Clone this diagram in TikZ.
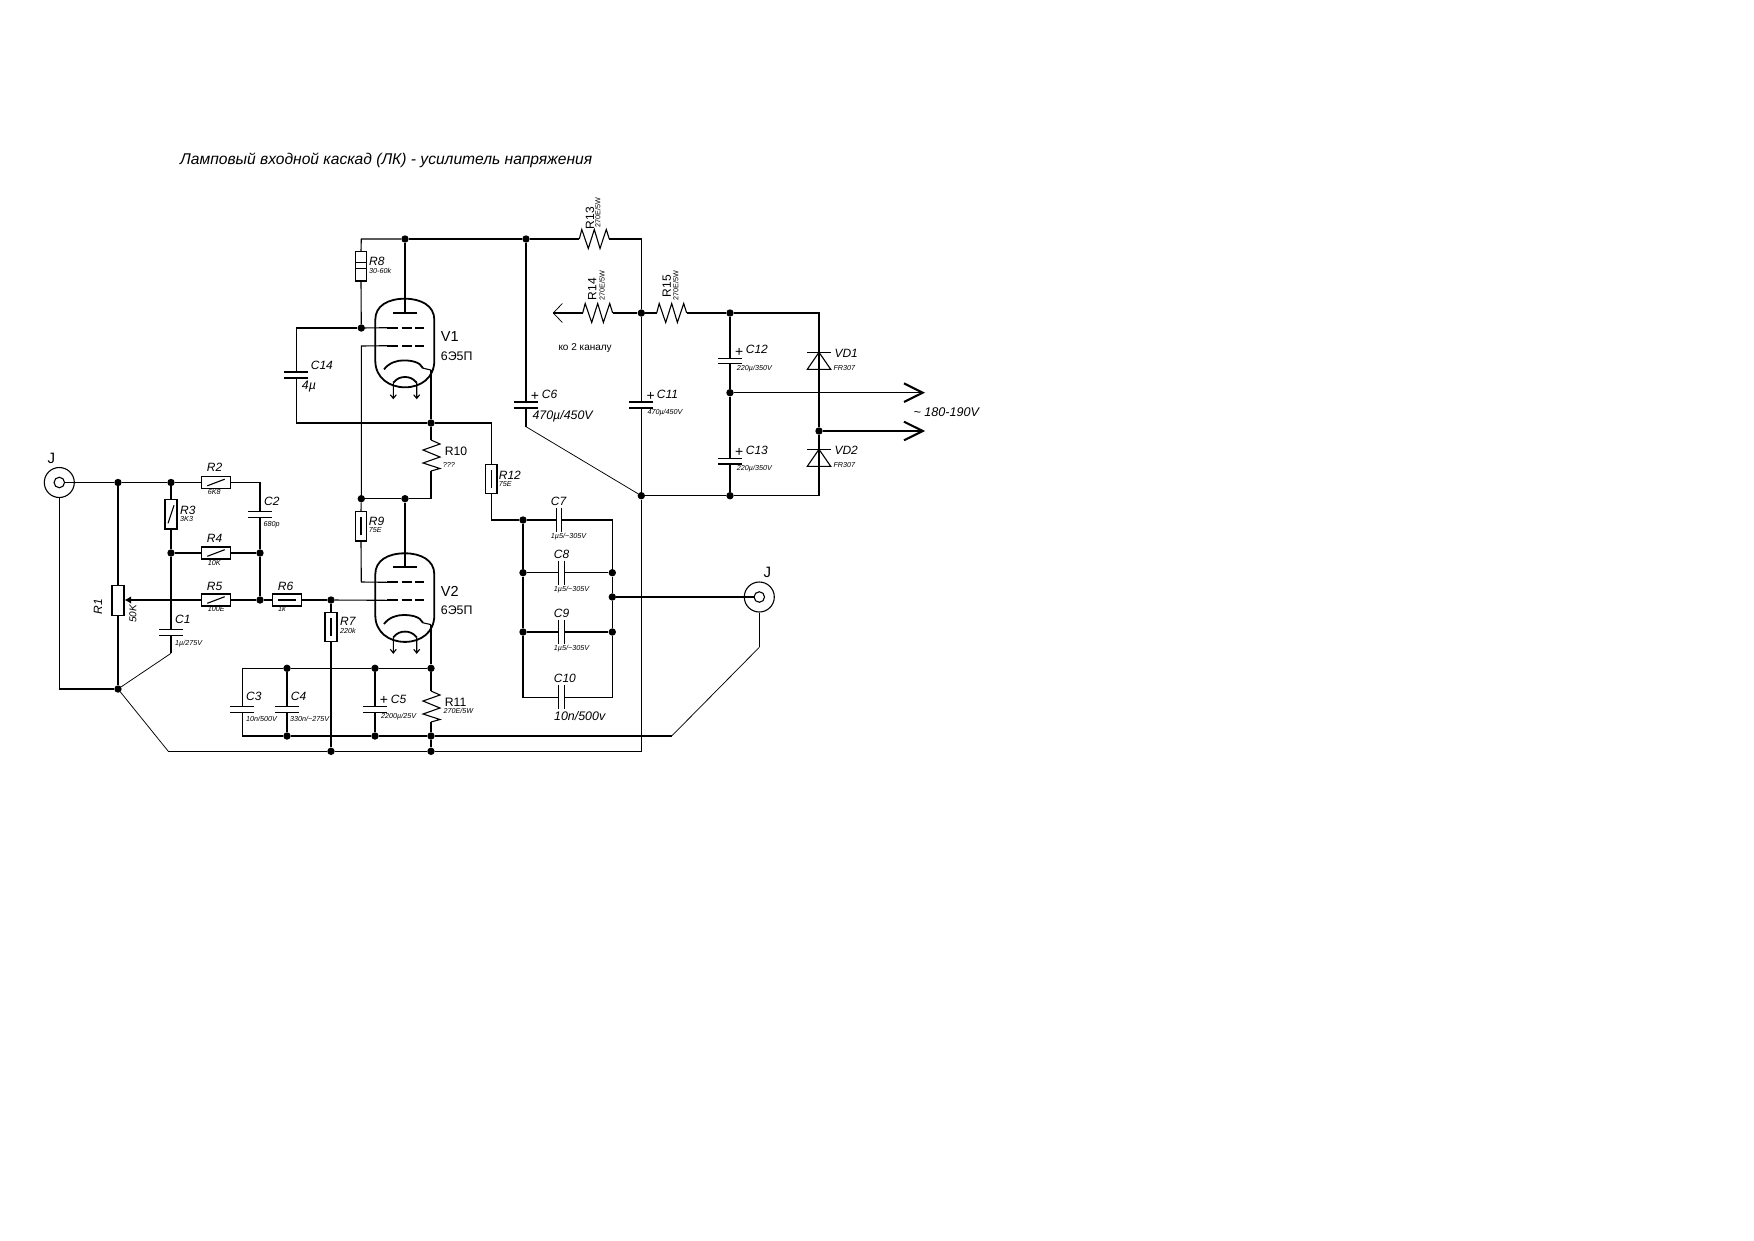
\documentclass[tikz,border=0pt]{standalone}
\usepackage{fontspec}
\setmainfont{Liberation Sans}
\usetikzlibrary{arrows.meta}
\newcounter{labn}
\tikzset{
  wire/.style={line width=1.1pt,line join=miter},
  thin wire/.style={line width=0.75pt},
  junc/.style={circle,fill=black,draw=none,inner sep=0pt,minimum size=7.4pt},
  resh/.style={rectangle,draw,line width=1.1pt,fill=white,inner sep=0pt,minimum width=29.4pt,minimum height=12pt},
  resv/.style={rectangle,draw,line width=1.1pt,fill=white,inner sep=0pt,minimum width=12pt,minimum height=29.4pt},
  tlab/.style={anchor=base west,inner sep=0pt,font=\fontsize{12}{13}\selectfont\itshape},
  ulab/.style={anchor=base west,inner sep=0pt,font=\fontsize{12.2}{13}\selectfont},
  jlab/.style={anchor=base west,inner sep=0pt,font=\fontsize{15}{16}\selectfont},
  slab/.style={anchor=base west,inner sep=0pt,font=\fontsize{7.2}{8}\selectfont\itshape},
  mlab/.style={anchor=base west,inner sep=0pt,font=\fontsize{12.4}{14}\selectfont\itshape},
  pluslab/.style={anchor=center,inner sep=0pt,font=\fontsize{14}{14}\selectfont},
  jackout/.style={circle,draw,line width=1.1pt,inner sep=0pt,minimum size=30pt},
  jackin/.style={circle,draw,line width=1.1pt,inner sep=0pt,minimum size=10.5pt},
  tubeline/.style={line width=1.8pt},
}
\newcommand{\lb}[4][tlab]{\stepcounter{labn}\node[#1] (lab\arabic{labn}) at (#2,#3) {#4};}
\newcommand{\junc}[3]{\node[junc] (#1) at (#2,#3) {};}
\newcommand{\slashH}[1]{\draw[wire] ([xshift=-8.7pt,yshift=-3.3pt]#1.center) -- ([xshift=8.7pt,yshift=3.3pt]#1.center);}
\newcommand{\slashV}[1]{\draw[wire] ([xshift=-3pt,yshift=-9pt]#1.center) -- ([xshift=3pt,yshift=9pt]#1.center);}
\newcommand{\barH}[1]{\draw[wire] ([xshift=-8.7pt]#1.center) -- ([xshift=8.7pt]#1.center);}
\newcommand{\barV}[1]{\draw[wire] ([yshift=-9pt]#1.center) -- ([yshift=9pt]#1.center);}
% capacitor with horizontal plates: name x y1 y2
\newcommand{\capV}[4]{\coordinate (#1a) at (#2,#3);\coordinate (#1b) at (#2,#4);
  \draw[wire] ({#2-12},#3) -- ({#2+12},#3) ({#2-12},#4) -- ({#2+12},#4);}
% capacitor with vertical plates: name x1 x2 y
\newcommand{\capH}[4]{\coordinate (#1a) at (#2,#4);\coordinate (#1b) at (#3,#4);
  \draw[wire] (#2,{#4-12}) -- (#2,{#4+12}) (#3,{#4-12}) -- (#3,{#4+12});}
% zigzag, vertical: name x ytop
\newcommand{\zigV}[3]{\begin{scope}[shift={(#2,#3)}]\coordinate (#1a) at (0,0);\coordinate (#1b) at (0,31);
  \draw[wire] (#1a) -- (9,4) -- (-8,10) -- (9,17) -- (-8,23) -- (9,28.5) -- (#1b);\end{scope}}
% zigzag, horizontal: name xleft y
\newcommand{\zigH}[3]{\begin{scope}[shift={(#2,#3)}]\coordinate (#1a) at (0,0);\coordinate (#1b) at (30,0);
  \draw[wire] (#1a) -- (2.5,-9.5) -- (9,9.5) -- (15,-9.5) -- (20.7,9.5) -- (27,-9.5) -- (#1b);\end{scope}}
% diode: name x ybar
\newcommand{\diodeV}[3]{\coordinate (#1k) at (#2,#3);\coordinate (#1b) at (#2,{#3+17});
  \draw[wire] ({#2-11.7},#3) -- ({#2+11.7},#3);
  \draw[wire] (#1k) -- ({#2-11.7},{#3+17}) -- ({#2+11.7},{#3+17}) -- cycle;}
% tube: name ytop
\newcommand{\tubeV}[2]{\begin{scope}[shift={(405,#2)}]
  \coordinate (#1p) at (0,14);\coordinate (#1gA) at (-17.7,29);\coordinate (#1gB) at (-17.7,47);\coordinate (#1k) at (26,71.3);
  \draw[tubeline] (-29.7,21) .. controls (-29.7,7) and (-17,0) .. (0,0) .. controls (16,0) and (29.3,7) .. (29.3,21)
     -- (29.3,62) .. controls (29.3,79) and (16,88.6) .. (0,88.6) .. controls (-16,88.6) and (-29.7,79) .. (-29.7,62) -- cycle;
  \draw[tubeline] (-12.2,14) -- (12.2,14);
  \draw[tubeline] (-17.7,29) -- (-6.7,29) (-3.3,29) -- (6.7,29) (10,29) -- (19,29);
  \draw[tubeline] (-17.7,47) -- (-6.7,47) (-3.3,47) -- (6.7,47) (10,47) -- (19,47);
  \draw[tubeline] (-21,70.7) .. controls (-16,64) and (-8,61.7) .. (-1.7,61.7) .. controls (6,61.7) and (15,63) .. (18,69.5);
  \draw[wire] (18,69.5) -- (#1k);
  \draw[tubeline] (-11.7,84) .. controls (-8,79.5) and (-4,78.3) .. (0,78.3) .. controls (4,78.3) and (8,79.5) .. (11.7,84);
  \draw[wire] (-11.7,84) -- (-11.7,99.7) (-14.7,96) -- (-11.7,99.7) -- (-8.7,96);
  \draw[wire] (11.7,84) -- (11.7,99.7) (8.7,96) -- (11.7,99.7) -- (14.7,96);
  \end{scope}}
\begin{document}
\begin{tikzpicture}[x=1pt,y=-1pt]
\useasboundingbox[fill=white] (0,0) rectangle (1754,1240);
% junctions
\junc{jA}{118}{482.5}\junc{jB}{171}{482.5}\junc{jC}{171}{553}\junc{jD}{260}{553}
\junc{jE}{260}{600}\junc{jF}{331}{600}\junc{jG}{118}{689}
\junc{jH}{287}{668.3}\junc{jI}{375}{668.3}\junc{jJ}{431}{668.3}
\junc{jK}{287}{736}\junc{jL}{375}{736}\junc{jM}{431}{736}
\junc{jN}{431}{751.3}\junc{jO}{331}{751.3}
\junc{jQ}{405}{239}\junc{jR}{526}{239}\junc{jS}{361.3}{328}\junc{jT}{431}{423}
\junc{jU}{361.3}{498.7}\junc{jV}{405}{498.7}
\junc{jW}{523}{520}\junc{jX}{523}{572.7}\junc{jY}{612.3}{572.7}\junc{jZ}{612.3}{597}
\junc{jAA}{523}{632}\junc{jAB}{612.3}{632}
\junc{jAC}{641.3}{313}\junc{jAD}{641.3}{495.7}
\junc{jAE}{730}{313}\junc{jAF}{730}{392.7}\junc{jAG}{730}{495.7}\junc{jAH}{819}{431}
% free corners
\coordinate (cTL) at (361.3,239);
\coordinate (cTR) at (641.3,239);
\coordinate (cA) at (296.3,328);
\coordinate (cB) at (296.3,423);
\coordinate (cC) at (491.3,423);
\coordinate (cD) at (491.3,520);
\coordinate (cE) at (431,498.7);
\coordinate (cF) at (361.3,346);
\coordinate (cG) at (361.3,582);
\coordinate (cH) at (260,482.5);
\coordinate (cI) at (171,653.3);
\coordinate (cJ) at (168.3,751.3);
\coordinate (cK) at (641.3,751.3);
\coordinate (cL) at (242.3,668.3);
\coordinate (cM) at (242.3,736);
\coordinate (cN) at (671.7,736);
\coordinate (cO) at (759.3,647.3);
\coordinate (cP) at (526,426.7);
\coordinate (cQ) at (612.3,520);
\coordinate (cR) at (523,697.3);
\coordinate (cS) at (612.3,697.3);
\coordinate (cT) at (819,313);
\coordinate (cU) at (819,495.7);
\coordinate (tA) at (922.7,392.7);
\coordinate (tB) at (922.7,431);
\coordinate (tC) at (553.3,313);
% boxes
\node[resh] (R2) at (216,482.5) {};\slashH{R2}
\node[resh] (R4) at (216,553) {};\slashH{R4}
\node[resh] (R5) at (216,600) {};\slashH{R5}
\node[resh] (R6) at (287,600) {};\barH{R6}
\node[resv] (R3) at (171,514.3) {};\slashV{R3}
\node[resv] (R1) at (118,600.5) {};
\node[resv] (R7) at (331,627) {};\barV{R7}
\node[resv,minimum width=11.4pt] (R8) at (361,266.3) {};
\draw[wire] (R8.west|-0,262.7) -- (R8.east|-0,262.7) (R8.west|-0,268.3) -- (R8.east|-0,268.3);
\node[resv,minimum width=11.4pt] (R9) at (361,526.3) {};\barV{R9}
\node[resv,minimum width=11.4pt] (R12) at (491.3,479) {};\barV{R12}
% jacks
\node[jackout] (J1) at (59.3,482.5) {};\node[jackin] (J1i) at (59.3,482.5) {};
\node[jackout] (J2) at (759.3,597) {};\node[jackin] (J2i) at (759.3,597) {};
% capacitors
\capV{C1}{171}{629.3}{635.3}
\capV{C2}{260}{511.3}{517.3}
\capV{C3}{242.3}{706.7}{712.7}
\capV{C4}{287}{706.7}{712.7}
\capV{C5}{375}{706.7}{712.5}
\capV{C6}{526}{402}{408}
\capV{C11}{641.3}{402}{408}
\capV{C12}{730}{358.5}{363.5}
\capV{C13}{730}{458.3}{464}
\capV{C14}{296.3}{372}{378}
\capH{C7}{556.3}{561.7}{520}
\capH{C8}{558.7}{564.3}{572.7}
\capH{C9}{558.7}{564.3}{632}
\capH{C10}{558.7}{564.3}{697.3}
% zigzags
\zigV{R10}{431}{440}
\zigV{R11}{431}{691}
\zigH{R13}{579.3}{239}
\zigH{R14}{582.7}{313}
\zigH{R15}{656.7}{313}
% diodes
\diodeV{VD1}{819}{352.3}
\diodeV{VD2}{819}{449.3}
% tubes
\tubeV{V1}{298.7}
\tubeV{V2}{553.3}
% input network
\draw[wire] (J1i) -- (jA);\draw[wire] (jA) -- (jB);\draw[wire] (jB) -- (R2);
\draw[wire] (R2) -- (cH) -- (C2a);\draw[wire] (C2b) -- (jD);
\draw[wire] (jB) -- (R3);\draw[wire] (R3) -- (jC);\draw[wire] (jC) -- (R4);\draw[wire] (R4) -- (jD);
\draw[wire] (jD) -- (jE);\draw[wire] (jE) -- (R5);\draw[wire] (jE) -- (R6);\draw[wire] (R6) -- (jF);
\draw[wire,-{Latex[length=6.5pt,width=7.5pt]}] (R5.west) -- (R1.east|-R5.west);
\draw[wire] (jA) -- (R1);\draw[wire] (R1) -- (jG);
\draw[wire] (J1.south) |- (jG);
\draw[wire] (jC) -- (C1a);\draw[wire] (C1b) -- (cI);
\draw[thin wire] (cI) -- (jG);\draw[thin wire] (jG) -- (cJ);
\draw[wire] (cJ) -- (jO);\draw[wire] (jO) -- (jN);\draw[wire] (jN) -- (cK) -- (jAD);
% cathode network of V2
\draw[wire] (jF) -- (V2gB);\draw[wire] (jF) -- (R7);\draw[wire] (R7) -- (jO);
\draw[wire] (jH) -- (cL) -- (C3a);\draw[wire] (C3b) -- (cM) -- (jK);
\draw[wire] (jH) -- (C4a);\draw[wire] (C4b) -- (jK);
\draw[wire] (jH) -- (jI);\draw[wire] (jI) -- (jJ);
\draw[wire] (jI) -- (C5a);\draw[wire] (C5b) -- (jL);
\draw[wire] (jK) -- (jL);\draw[wire] (jL) -- (jM);\draw[wire] (jM) -- (cN);
\draw[thin wire] (cN) -- (cO);\draw[wire] (cO) -- (J2.south);
\draw[wire] (V2k) -- (jJ);\draw[wire] (jJ) -- (R11a);\draw[wire] (R11b) -- (jM);\draw[wire] (jM) -- (jN);
% upper stage
\draw[wire] (R8.north) -- (cTL) -- (jQ);\draw[wire] (jQ) -- (jR);\draw[wire] (jR) -- (R13a);
\draw[wire] (jQ) -- (V1p);
\draw[wire] (R8.south) -- (jS);\draw[wire] (jS) -- (V1gA);
\draw[wire] (jS) -- (cA) -- (C14a);\draw[wire] (C14b) -- (cB) -- (jT);
\draw[wire] (V1k) -- (jT);\draw[wire] (jT) -- (R10a);\draw[wire] (R10b) -- (cE) -- (jV);
\draw[wire] (jV) -- (jU);\draw[wire] (V1gB) -- (cF) -- (jU);
\draw[wire] (jU) -- (R9.north);\draw[wire] (R9.south) -- (cG) -- (V2gA);
\draw[wire] (jV) -- (V2p);
\draw[wire] (jT) -- (cC) -- (R12.north);\draw[wire] (R12.south) -- (cD) -- (jW);
% coupling capacitors
\draw[wire] (jW) -- (C7a);\draw[wire] (C7b) -- (cQ) -- (jY);
\draw[wire] (jX) -- (C8a);\draw[wire] (C8b) -- (jY);
\draw[wire] (jAA) -- (C9a);\draw[wire] (C9b) -- (jAB);
\draw[wire] (jW) -- (jX);\draw[wire] (jX) -- (jAA);\draw[wire] (jAA) -- (cR) -- (C10a);
\draw[wire] (C10b) -- (cS) -- (jAB);\draw[wire] (jAB) -- (jZ);\draw[wire] (jZ) -- (jY);
\draw[wire] (jZ) -- (J2i);
% supply
\draw[wire] (R13b) -- (cTR) -- (jAC);\draw[wire] (jAC) -- (C11a);\draw[wire] (C11b) -- (jAD);
\draw[wire] (jR) -- (C6a);\draw[wire] (C6b) -- (cP);\draw[thin wire] (cP) -- (jAD);
\draw[wire] (jAD) -- (jAG);
\draw[wire] (R14b) -- (jAC);\draw[wire] (jAC) -- (R15a);\draw[wire] (R15b) -- (jAE);
\draw[wire] (R14a) -- (tC);
\draw[thin wire] ([xshift=9pt,yshift=9.5pt]tC) -- (tC) -- ([xshift=9pt,yshift=-9.5pt]tC);
\draw[wire] (jAE) -- (C12a);\draw[wire] (C12b) -- (jAF);\draw[wire] (jAF) -- (C13a);\draw[wire] (C13b) -- (jAG);
\draw[wire] (jAE) -- (cT) -- (VD1k);\draw[wire] (VD1k) -- (jAH);\draw[wire] (jAH) -- (VD2k);
\draw[wire] (VD2k) -- (cU) -- (jAG);
\draw[wire] (jAF) -- (tA);\draw[wire] (jAH) -- (tB);
\draw[line width=2.1pt] ([xshift=-18.7pt,yshift=9.3pt]tA) -- (tA) -- ([xshift=-18.7pt,yshift=-9.3pt]tA);
\draw[line width=2.1pt] ([xshift=-18.7pt,yshift=9.3pt]tB) -- (tB) -- ([xshift=-18.7pt,yshift=-9.3pt]tB);
% title
\lb[anchor=base west,inner sep=0pt,font=\fontsize{15.6}{17}\selectfont\itshape]{180}{164}{Ламповый входной каскад (ЛК) - усилитель напряжения}
% labels left
\lb[jlab]{47.3}{463.3}{J}
\lb{206.7}{471.7}{R2}\lb[slab]{207.7}{494.6}{6K8}
\lb{180}{514}{R3}\lb[slab]{180}{521}{3K3}
\lb{264}{505}{C2}\lb[slab]{263.3}{526}{680p}
\lb{206.7}{542.7}{R4}\lb[slab]{207.7}{565}{10K}
\lb{206.7}{590}{R5}\lb[slab]{207.7}{611.5}{100E}
\lb{277.7}{590}{R6}\lb[slab]{278}{611.5}{1k}
\lb{340}{625.7}{R7}\lb[slab]{340}{633.3}{220k}
\lb[anchor=center,inner sep=0pt,rotate=90,font=\fontsize{12}{13}\selectfont\itshape]{98}{606.7}{R1}
\lb[anchor=center,inner sep=0pt,rotate=90,font=\fontsize{10}{11}\selectfont\itshape]{133}{613.7}{50K}
\lb{175}{623}{C1}\lb[slab]{175}{645}{1µ/275V}
\lb{246}{700}{C3}\lb[slab]{246}{721}{10n/500V}
\lb{290.7}{700}{C4}\lb[slab]{290}{721}{330n/\textasciitilde275V}
% labels middle
\lb{369}{265.7}{R8}\lb[slab]{369}{273.3}{30-60k}
\lb[anchor=base west,inner sep=0pt,font=\fontsize{14.5}{16}\selectfont]{440.7}{341.7}{V1}
\lb[anchor=base west,inner sep=0pt,font=\fontsize{12.4}{14}\selectfont]{440.7}{360}{6Э5П}
\lb{310.7}{369}{C14}\lb[mlab]{301.7}{389.3}{4µ}
\lb[ulab]{444.7}{455}{R10}\lb[slab]{442.7}{467.3}{???}
\lb{498.7}{479}{R12}\lb[slab]{498.7}{486}{75E}
\lb{368.7}{525.7}{R9}\lb[slab]{368.7}{532.7}{75E}
\lb[anchor=base west,inner sep=0pt,font=\fontsize{14.5}{16}\selectfont]{440.7}{596}{V2}
\lb[anchor=base west,inner sep=0pt,font=\fontsize{12.4}{14}\selectfont]{440.7}{614}{6Э5П}
\lb{390.7}{703.3}{C5}\lb[pluslab]{384}{700}{+}\lb[slab]{381}{718.7}{2200µ/25V}
\lb[ulab]{444.7}{706}{R11}\lb[slab]{443.3}{713.3}{270E/5W}
% rotated resistor labels
\lb[anchor=center,inner sep=0pt,rotate=90,font=\fontsize{12}{13}\selectfont]{590}{218}{R13}
\lb[anchor=center,inner sep=0pt,rotate=90,font=\fontsize{7.2}{8}\selectfont]{597.7}{212.3}{270E/5W}
\lb[anchor=center,inner sep=0pt,rotate=90,font=\fontsize{12}{13}\selectfont]{592.3}{289}{R14}
\lb[anchor=center,inner sep=0pt,rotate=90,font=\fontsize{7.2}{8}\selectfont]{602}{285.7}{270E/5W}
\lb[anchor=center,inner sep=0pt,rotate=90,font=\fontsize{12}{13}\selectfont]{666.7}{286.3}{R15}
\lb[anchor=center,inner sep=0pt,rotate=90,font=\fontsize{7.2}{8}\selectfont]{675.7}{285.7}{270E/5W}
\lb[anchor=base west,inner sep=0pt,font=\fontsize{10}{11}\selectfont]{558.3}{350}{ко 2 каналу}
% supply labels
\lb{541.7}{398.3}{C6}\lb[pluslab]{535}{396.7}{+}\lb[mlab]{532.3}{419}{470µ/450V}
\lb{656.7}{398.3}{C11}\lb[pluslab]{650.7}{396.7}{+}\lb[slab]{647.3}{414}{470µ/450V}
\lb{745.7}{353.7}{C12}\lb[pluslab]{739.3}{352.7}{+}\lb[slab]{736.7}{370.3}{220µ/350V}
\lb{745.7}{454}{C13}\lb[pluslab]{739.3}{452.3}{+}\lb[slab]{736.7}{470.3}{220µ/350V}
\lb{834.3}{357.3}{VD1}\lb[slab]{833.3}{370.7}{FR307}
\lb{834.3}{454.3}{VD2}\lb[slab]{833.3}{467.7}{FR307}
\lb[anchor=base west,inner sep=0pt,font=\fontsize{12.6}{14}\selectfont\itshape]{913.3}{416}{\textasciitilde{} 180-190V}
% coupling labels
\lb{550.7}{505}{C7}\lb[slab]{550.7}{538.3}{1µ5/\textasciitilde305V}
\lb{553.7}{558.3}{C8}\lb[slab]{553.7}{591}{1µ5/\textasciitilde305V}
\lb{553.7}{617.3}{C9}\lb[slab]{553.7}{650}{1µ5/\textasciitilde305V}
\lb{553.7}{682}{C10}\lb[mlab]{554}{720}{10n/500v}
\lb[jlab]{763.3}{577.3}{J}
\end{tikzpicture}
\end{document}
